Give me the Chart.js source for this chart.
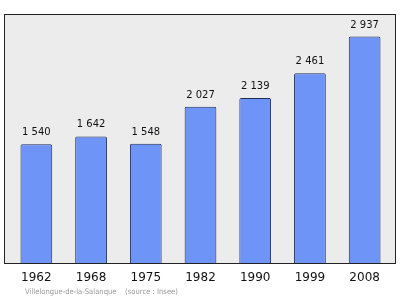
<!DOCTYPE html>
<html>
<head>
<meta charset="utf-8">
<script src="https://cdn.jsdelivr.net/npm/chart.js@4/dist/chart.umd.min.js"></script>
<style>
html,body{margin:0;padding:0;background:#fff;}
#wrap{width:400px;height:299px;position:relative;}
</style>
</head>
<body>
<div id="wrap"><canvas id="c" width="400" height="299"></canvas></div>
<script>
const years = ["1962", "1968", "1975", "1982", "1990", "1999", "2008"];
const population = [1540, 1642, 1548, 2027, 2139, 2461, 2937];
const valueLabels = ["1 540", "1 642", "1 548", "2 027", "2 139", "2 461", "2 937"];
const sourceName = "Villelongue-de-la-Salanque";
const sourceNote = "(source : Insee)";

const framePlugin = {
  id: 'frame',
  beforeDatasetsDraw(chart) {
    const a = chart.chartArea, ctx = chart.ctx;
    ctx.save();
    ctx.fillStyle = '#ececec';
    ctx.fillRect(a.left - 5, a.top, (a.right + 3) - (a.left - 5), a.bottom - a.top);
    ctx.restore();
  },
  afterDatasetsDraw(chart) {
    const a = chart.chartArea, ctx = chart.ctx;
    ctx.save();
    ctx.strokeStyle = '#222';
    ctx.lineWidth = 1;
    ctx.strokeRect(Math.round(a.left - 5) + 0.5, Math.round(a.top) + 0.5,
      Math.round((a.right + 3) - (a.left - 5)), Math.round(a.bottom - a.top));
    const meta = chart.getDatasetMeta(0);
    ctx.fillStyle = '#111';
    ctx.font = '10px "DejaVu Sans"';
    ctx.textAlign = 'center';
    ctx.textBaseline = 'middle';
    meta.data.forEach((bar, i) => {
      ctx.fillText(valueLabels[i], bar.x, bar.y - 11.5);
    });
    ctx.fillStyle = '#9a9a9a';
    ctx.font = '7.6px "DejaVu Sans Condensed"';
    ctx.textAlign = 'left';
    ctx.fillText(sourceName, 25, 292);
    ctx.fillText(sourceNote, 125, 292);
    ctx.restore();
  }
};

new Chart(document.getElementById('c'), {
  type: 'bar',
  data: {
    labels: years,
    datasets: [{
      data: population,
      backgroundColor: '#6f94f8',
      borderColor: '#1e2b55',
      borderWidth: 1,
      borderRadius: 1.5,
      borderSkipped: 'bottom',
      barPercentage: 0.58,
      categoryPercentage: 1
    }]
  },
  options: {
    responsive: false,
    animation: false,
    layout: { padding: { left: 9, right: 8, top: 14, bottom: 5.5 } },
    plugins: { legend: { display: false }, tooltip: { enabled: false } },
    scales: {
      y: { display: false, min: 0, max: 3228 },
      x: {
        grid: { display: false, drawTicks: false, tickLength: 0 },
        border: { display: false },
        ticks: { color: '#111', font: { family: 'DejaVu Sans', size: 12 }, padding: 8, maxRotation: 0 }
      }
    }
  },
  plugins: [framePlugin]
});
</script>
</body>
</html>
